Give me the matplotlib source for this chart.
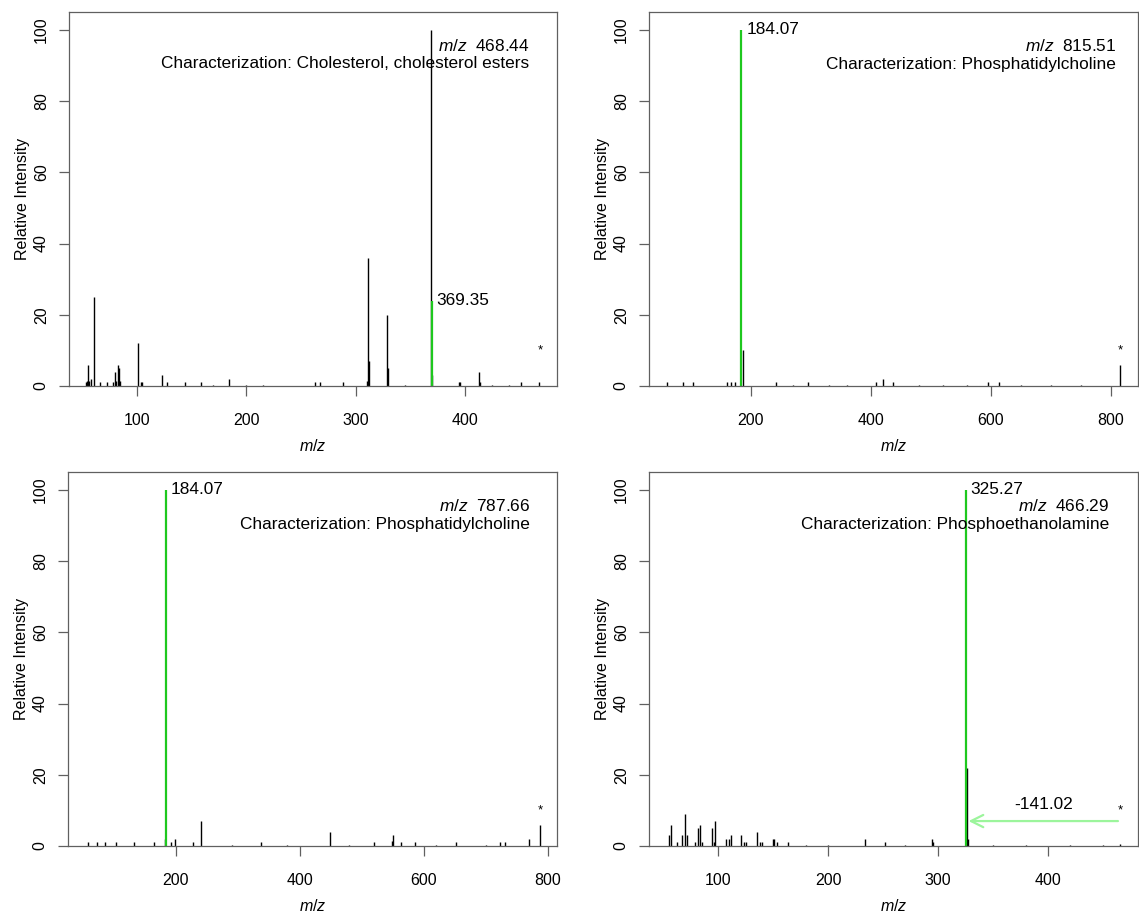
import numpy as np
import matplotlib
matplotlib.use("Agg")
import matplotlib.pyplot as plt

plt.rcParams["font.family"] = ["Liberation Sans", "DejaVu Sans"]
plt.rcParams["mathtext.fontset"] = "custom"
plt.rcParams["mathtext.rm"] = "Liberation Sans"
plt.rcParams["mathtext.it"] = "Liberation Sans:italic"

FS = 11.5      # axis text
FS_ANN = 12.4  # annotations inside the panels
GREEN = "#1ec81e"
ARROW = "#9cf59c"
FRAME = "#606060"

# ── spectra (m/z, relative intensity) ───────────────────────────────────────
tl_mz = [53.5, 54.5, 55.5, 56.5, 58.5, 60.5, 66.5, 72.5, 78.5, 80, 81, 82.5, 84,
         85, 101.5, 103.5, 105, 122.8, 127.6, 143.8, 159, 170, 184, 200, 215,
         263, 267, 288, 310, 311.3, 312.5, 328.3, 329.3, 345, 368.7, 370.2,
         394.5, 395.5, 412.7, 413.5, 425, 440, 450.8, 467.5]
tl_int = [1, 1.5, 6, 1.5, 2, 25, 1, 1, 1, 4, 1.5, 6, 5,
          1.5, 12, 1, 1, 3, 1, 1, 1, 0.4, 2, 0.4, 0.4,
          1.2, 1, 1, 1.5, 36, 7, 20, 5, 0.4, 100, 3,
          1, 1, 4, 1, 0.4, 0.4, 1, 1]

tr_mz = [60.5, 86.7, 104, 159.5, 166.7, 173.9, 186, 241, 270, 295.5, 330, 360,
         408, 420.5, 436, 480, 520, 560, 595.5, 613, 650, 700, 750, 814.5]
tr_int = [1, 1, 1, 1, 1, 1, 10, 1, 0.4, 1, 0.4, 0.4,
          1, 2, 1, 0.4, 0.4, 0.4, 1, 1, 0.4, 0.4, 0.4, 6]

bl_mz = [57.6, 73, 86, 104, 133, 165, 183, 191.4, 198, 227.4, 240.3, 290,
         337, 380, 449, 480, 520, 548, 550, 563, 585.5, 620, 652.7, 700,
         722.6, 731, 770, 787]
bl_int = [1, 1, 1, 1, 1, 1, 2, 1, 2, 1, 7, 0.4,
          1, 0.4, 4, 0.4, 1, 1.5, 3, 1, 1, 0.4, 1, 0.4,
          1, 1, 2, 6]

br_mz = [55.2, 57.3, 62.5, 67.3, 69.4, 71.5, 79, 81.2, 83.4, 85.2, 94.3, 95.7,
         97.3, 107.3, 109.4, 111.5, 121, 123, 125.5, 135.2, 137.6, 139.7,
         149.4, 151.2, 153.3, 163.4, 180, 200, 233.6, 251.8, 270, 294.3, 295.8,
         326.2, 327.2, 350, 380, 420, 450, 465.5]
br_int = [3, 6, 1, 3, 9, 3, 1, 5, 6, 1, 5, 1,
          7, 2, 2, 3, 3, 1, 1, 4, 1, 1,
          2, 2, 1, 1, 0.4, 0.4, 2, 1, 0.4, 2, 1,
          22, 2, 0.4, 0.4, 0.4, 0.4, 0.5]

matched_mz = [369.35, 184.07, 184.07, 325.27]
matched_int = [24, 100, 100, 100]
precursor_mz = [468.44, 815.51, 787.66, 466.29]
characterization = ["Cholesterol, cholesterol esters", "Phosphatidylcholine",
                    "Phosphatidylcholine", "Phosphoethanolamine"]
neutral_loss = [None, None, None, -141.02]
x_ticks = [[100, 200, 300, 400], [200, 400, 600, 800],
           [200, 400, 600, 800], [100, 200, 300, 400]]
y_ticks = [0, 20, 40, 60, 80, 100]

spectra = [(tl_mz, tl_int), (tr_mz, tr_int), (bl_mz, bl_int), (br_mz, br_int)]

# layout (pixels of a 1139x913 canvas)
W, H = 1139, 913
boxes = [(69, 557, 12, 386), (649, 1138, 12, 386),
         (68, 557, 472, 846), (649, 1138, 472, 846)]
xlims = [(38, 484), (30, 845), (26, 815), (37, 482)]
text_right = [0.943, 0.955, 0.945, 0.941]

fig = plt.figure(figsize=(W / 100, H / 100), dpi=100)

for i, (mz, inten) in enumerate(spectra):
    l, r, t, b = boxes[i]
    ax = fig.add_axes([l / W, 1 - b / H, (r - l) / W, (b - t) / H])
    ax.vlines(mz, 0, inten, colors="black", linewidth=1.0)
    ax.vlines(matched_mz[i], 0, matched_int[i], colors=GREEN, linewidth=1.6)
    ax.annotate(f"{matched_mz[i]:.2f}", (matched_mz[i], matched_int[i]),
                xytext=(3.5, 0), textcoords="offset points",
                ha="left", va="center", fontsize=FS_ANN)
    ax.text(precursor_mz[i], 10, "*", ha="center", va="center", fontsize=9.5)
    if neutral_loss[i] is not None:
        ax.annotate("", xy=(matched_mz[i], 7), xytext=(precursor_mz[i], 7),
                    arrowprops=dict(arrowstyle="->", color=ARROW, lw=1.6,
                                    mutation_scale=22))
        ax.text((matched_mz[i] + precursor_mz[i]) / 2, 9.5, f"{neutral_loss[i]:.2f}",
                ha="center", va="bottom", fontsize=FS_ANN)

    ax.text(text_right[i], 1 - 34 / 374, r"$m/z$  " + f"{precursor_mz[i]:.2f}",
            transform=ax.transAxes, ha="right", va="center", fontsize=FS_ANN)
    ax.text(text_right[i], 1 - 52 / 374, "Characterization: " + characterization[i],
            transform=ax.transAxes, ha="right", va="center", fontsize=FS_ANN)

    ax.set_xlim(*xlims[i])
    ax.set_ylim(0, 105)
    ax.set_xticks(x_ticks[i])
    ax.set_yticks(y_ticks)
    ax.set_yticklabels([str(v) for v in y_ticks], rotation=90, va="center")
    ax.tick_params(direction="out", length=7.5, width=0.9, color=FRAME,
                   labelsize=FS, pad=7)
    ax.tick_params(axis="x", pad=12)
    for s in ax.spines.values():
        s.set_color(FRAME)
        s.set_linewidth(0.9)
    ax.set_xlabel(r"$m/z$", fontsize=FS, labelpad=7)
    ax.set_ylabel("Relative Intensity", fontsize=FS, labelpad=3)

fig.savefig("out.png", dpi=100)
